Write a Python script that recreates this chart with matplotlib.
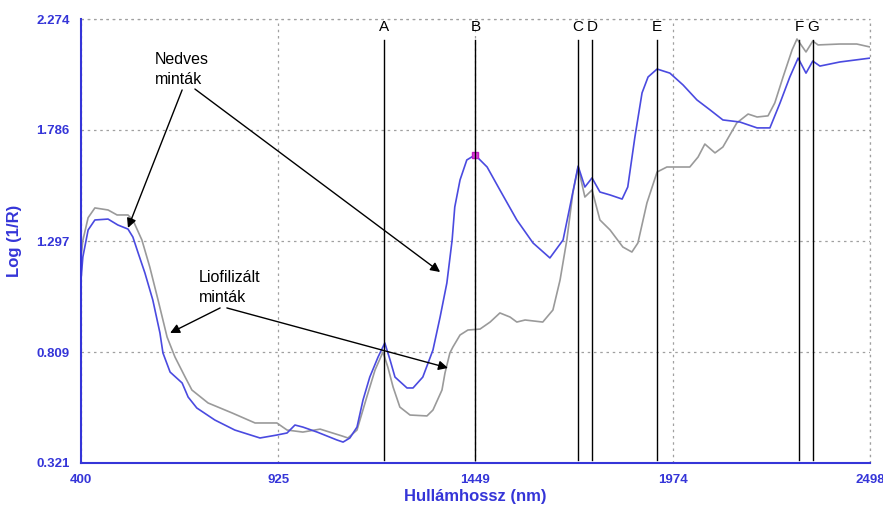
import matplotlib.pyplot as plt
import numpy as np

plt.rcParams['font.family'] = ['Liberation Sans', 'DejaVu Sans']

# Nedves (wet) samples - blue curve
wet_nm = [400, 405, 419, 437, 472, 498, 525, 538, 552, 570, 591, 610, 618, 637, 669,
          685, 708, 756, 809, 876, 921, 948, 969, 990, 1028, 1081, 1097, 1115, 1134,
          1150, 1168, 1190, 1208, 1222, 1235, 1267, 1283, 1309, 1336, 1355, 1373, 1387,
          1394, 1408, 1426, 1448, 1480, 1514, 1559, 1602, 1647, 1682, 1700, 1722, 1740,
          1759, 1780, 1807, 1839, 1854, 1873, 1892, 1908, 1932, 1966, 2001, 2038, 2073,
          2107, 2152, 2198, 2232, 2259, 2285, 2307, 2328, 2346, 2365, 2418, 2498]
wet_val = [1.126, 1.227, 1.346, 1.390, 1.394, 1.368, 1.350, 1.315, 1.245, 1.157, 1.038,
           0.893, 0.805, 0.721, 0.673, 0.611, 0.563, 0.510, 0.466, 0.431, 0.444, 0.453,
           0.488, 0.479, 0.457, 0.422, 0.413, 0.431, 0.479, 0.598, 0.699, 0.787, 0.849,
           0.774, 0.699, 0.651, 0.651, 0.699, 0.818, 0.963, 1.113, 1.302, 1.447, 1.566,
           1.654, 1.676, 1.623, 1.522, 1.390, 1.289, 1.223, 1.302, 1.447, 1.627, 1.535,
           1.575, 1.513, 1.500, 1.482, 1.535, 1.755, 1.949, 2.019, 2.054, 2.036, 1.984,
           1.918, 1.874, 1.830, 1.821, 1.795, 1.795, 1.905, 2.019, 2.102, 2.036, 2.089,
           2.067, 2.085, 2.102]

# Liofilizált (freeze-dried) samples - grey curve
dry_nm = [400, 405, 419, 437, 472, 496, 525, 538, 562, 583, 605, 629, 650, 677, 695,
          738, 802, 863, 921, 948, 990, 1036, 1094, 1110, 1134, 1160, 1182, 1203, 1216,
          1230, 1248, 1275, 1320, 1336, 1360, 1368, 1381, 1389, 1408, 1429, 1461, 1488,
          1514, 1541, 1559, 1581, 1628, 1655, 1674, 1692, 1708, 1722, 1740, 1759, 1780,
          1807, 1841, 1865, 1881, 1905, 1932, 1958, 2019, 2041, 2059, 2086, 2107, 2144,
          2174, 2198, 2227, 2245, 2267, 2291, 2304, 2328, 2346, 2360, 2418, 2463, 2498]
dry_val = [1.220, 1.300, 1.400, 1.443, 1.434, 1.412, 1.412, 1.390, 1.302, 1.183, 1.038,
           0.875, 0.787, 0.699, 0.642, 0.585, 0.541, 0.497, 0.497, 0.466, 0.457, 0.470,
           0.440, 0.431, 0.466, 0.611, 0.730, 0.809, 0.743, 0.655, 0.567, 0.532, 0.528,
           0.554, 0.642, 0.717, 0.805, 0.831, 0.884, 0.906, 0.910, 0.941, 0.981, 0.963,
           0.941, 0.950, 0.941, 0.994, 1.126, 1.302, 1.509, 1.623, 1.491, 1.522, 1.390,
           1.346, 1.271, 1.249, 1.289, 1.465, 1.601, 1.623, 1.623, 1.667, 1.724, 1.685,
           1.711, 1.817, 1.856, 1.843, 1.848, 1.905, 2.019, 2.138, 2.186, 2.129, 2.177,
           2.160, 2.164, 2.164, 2.151]

band_labels = ['A', 'B', 'C', 'D', 'E', 'F', 'G']
band_nm = [1206, 1449, 1722, 1759, 1932, 2310, 2347]

x_ticks = [400, 925, 1449, 1974, 2498]
y_ticks = [0.321, 0.809, 1.297, 1.786, 2.274]

axis_blue = '#3535d8'
line_blue = '#4a4ae0'
grid_grey = '#a0a0a0'

fig = plt.figure(figsize=(8.83, 5.07), dpi=100)
ax = fig.add_axes([0.0917, 0.0868, 0.8935, 0.8757])

ax.plot(dry_nm, dry_val, color='#9a9a9a', lw=1.2, solid_joinstyle='round')
ax.plot(wet_nm, wet_val, color=line_blue, lw=1.2, solid_joinstyle='round')
ax.plot([1448], [1.676], marker='s', ms=5, color='#e040e0', mec='#c020c0')

for lab, nm in zip(band_labels, band_nm):
    ax.plot([nm, nm], [0.334, 2.182], color='black', lw=1)
    ax.text(nm, 2.239, lab, ha='center', va='center', fontsize=11, color='black')

# annotations
ax.text(597, 2.098, 'Nedves', fontsize=11.5, va='center', ha='left')
ax.text(597, 2.010, 'minták', fontsize=11.5, va='center', ha='left')
ax.text(714, 1.139, 'Liofilizált', fontsize=11.5, va='center', ha='left')
ax.text(714, 1.051, 'minták', fontsize=11.5, va='center', ha='left')

arrow = dict(arrowstyle='-|>', color='black', lw=1, mutation_scale=14, shrinkA=0, shrinkB=0)
ax.annotate('', xy=(525, 1.355), xytext=(669, 1.962), arrowprops=arrow)
ax.annotate('', xy=(1355, 1.161), xytext=(703, 1.966), arrowprops=arrow)
ax.annotate('', xy=(637, 0.893), xytext=(770, 1.003), arrowprops=arrow)
ax.annotate('', xy=(1376, 0.739), xytext=(788, 1.003), arrowprops=arrow)

ax.set_xlim(400, 2498)
ax.set_ylim(0.321, 2.274)
ax.set_xticks(x_ticks)
ax.set_xticklabels([str(t) for t in x_ticks])
ax.set_yticks(y_ticks)
ax.set_yticklabels(['%.3f' % t for t in y_ticks])
ax.tick_params(length=0, colors=axis_blue, labelsize=9.5, pad=8)
for lab in ax.get_xticklabels() + ax.get_yticklabels():
    lab.set_fontweight('bold')

ax.grid(True, color=grid_grey, ls=(0, (2, 3)), lw=0.9)
for side in ['top', 'right']:
    ax.spines[side].set_visible(False)
for side in ['left', 'bottom']:
    ax.spines[side].set_color(axis_blue)
    ax.spines[side].set_linewidth(1.5)
# dotted frame lines at the top and right edges
ax.axhline(2.274, color=grid_grey, ls=(0, (2, 3)), lw=0.9, clip_on=False)
ax.axvline(2498, color=grid_grey, ls=(0, (2, 3)), lw=0.9, clip_on=False)

ax.set_xlabel('Hullámhossz (nm)', color=axis_blue, fontsize=12, fontweight='bold', labelpad=2)
ax.set_ylabel('Log (1/R)', color=axis_blue, fontsize=12, fontweight='bold', labelpad=10)

fig.savefig('out.png', dpi=100)
